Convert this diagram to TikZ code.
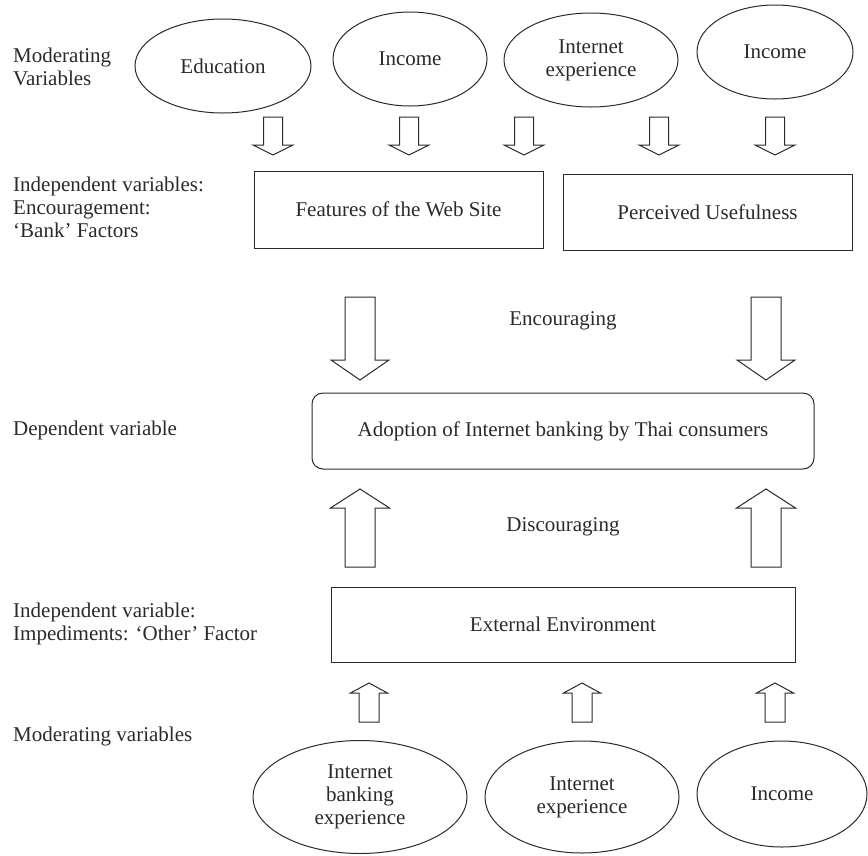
\documentclass[tikz,border=0pt]{standalone}
\usepackage{fontspec}
\setmainfont{Liberation Serif}
\usetikzlibrary{shapes.geometric}
\definecolor{ink}{HTML}{2A2A2A}
\newcommand\blockarr[6]{% x, y-start, y-headbase, y-tip, half shaft, half head
  \draw[blk] (#1-#5,#2) -- (#1-#5,#3) -- (#1-#6,#3) -- (#1,#4) -- (#1+#6,#3) -- (#1+#5,#3) -- (#1+#5,#2) -- cycle;}
\begin{document}
\begin{tikzpicture}[x=1pt,y=-1pt,
  txt/.style={font=\fontsize{21}{23}\selectfont, text=ink},
  lbl/.style={txt, inner sep=0pt, anchor=west, align=left},
  oval/.style={txt, draw=ink, line width=1pt, ellipse, inner sep=0pt, align=center},
  rbox/.style={txt, draw=ink, line width=1pt, rectangle, inner sep=0pt},
  blk/.style={draw=ink, line width=1pt, line join=miter, fill=white}]
\useasboundingbox (0,0) rectangle (868,855);
% left labels
\node[lbl] (l1) at (13,66.5) {Moderating\\Variables};
\node[lbl] (l2) at (13,207.5) {Independent variables:\\Encouragement:\\‘Bank’ Factors};
\node[lbl] (l3) at (13,430) {Dependent variable};
\node[lbl] (l4) at (13,623.5) {Independent variable:\\Impediments: ‘Other’ Factor};
\node[lbl] (l5) at (13,736) {Moderating variables};
% top ellipses
\node[oval, minimum width=176pt, minimum height=94pt] (edu) at (223,66) {Education};
\node[oval, minimum width=154pt, minimum height=94pt] (inc1) at (410,59) {Income};
\node[oval, minimum width=174pt, minimum height=94pt] (iexp1) at (591,60) {Internet\\experience};
\node[oval, minimum width=156pt, minimum height=94pt] (inc2) at (775,52) {Income};
% small down arrows
\blockarr{273}{117}{145}{155}{9.5}{20}
\blockarr{409}{117}{145}{155}{9.5}{20}
\blockarr{524}{117}{145}{155}{9.5}{20}
\blockarr{659}{117}{145}{155}{9.5}{20}
\blockarr{775}{117}{145}{155}{9.5}{20}
% boxes
\node[rbox, minimum width=289pt, minimum height=77pt] (feat) at (398.5,209.5) {Features of the Web Site};
\node[rbox, minimum width=289pt, minimum height=76pt] (pu) at (707.5,212) {Perceived Usefulness};
% big down arrows
\blockarr{360}{297}{360}{380}{15}{29}
\blockarr{766}{297}{360}{380}{15}{29}
\node[txt, inner sep=0pt] (enc) at (563,321) {Encouraging};
% dependent
\node[rbox, rounded corners=11pt, minimum width=502pt, minimum height=76pt] (adopt) at (563,431) {Adoption of Internet banking by Thai consumers};
% big up arrows
\blockarr{360}{567}{508}{489}{15}{29.5}
\blockarr{766}{567}{508}{489}{15}{29.5}
\node[txt, inner sep=0pt] (disc) at (563,527) {Discouraging};
% external
\node[rbox, minimum width=464pt, minimum height=75pt] (ext) at (563,624.5) {External Environment};
% small up arrows
\blockarr{369}{722}{693}{683}{10}{18.5}
\blockarr{582}{722}{693}{683}{10}{18.5}
\blockarr{775}{722}{693}{683}{10}{18.5}
% bottom ellipses
\node[oval, minimum width=214pt, minimum height=113pt] (ibe) at (360,797) {Internet\\banking\\experience};
\node[oval, minimum width=194pt, minimum height=112pt] (iexp2) at (582,797) {Internet\\experience};
\node[oval, minimum width=170pt, minimum height=106pt] (inc3) at (782,794) {Income};
\end{tikzpicture}
\end{document}
